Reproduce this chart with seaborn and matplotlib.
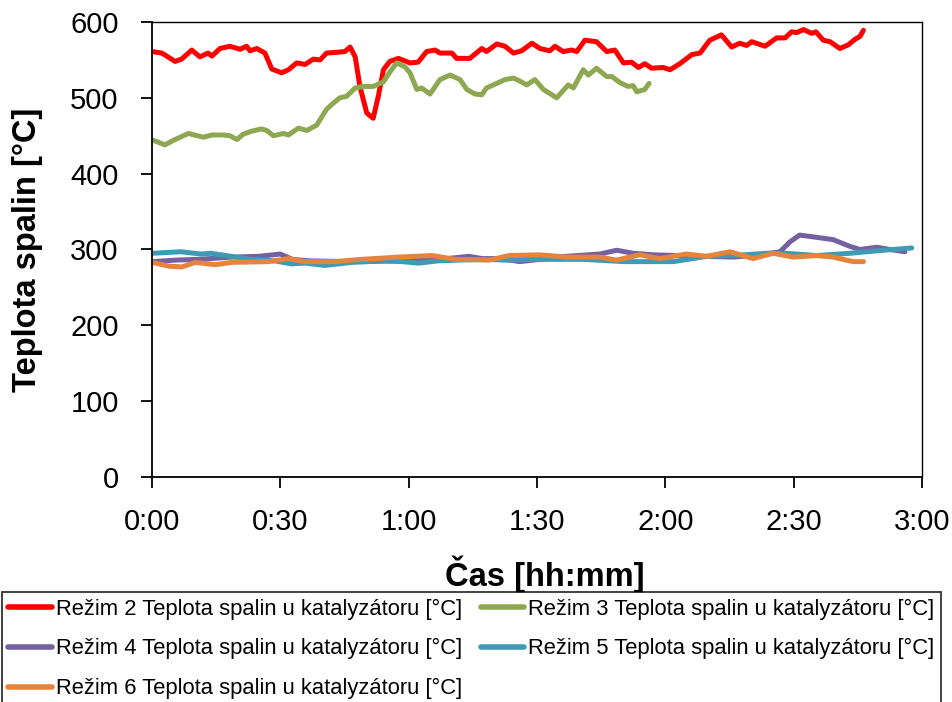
import matplotlib
matplotlib.use("Agg")
import matplotlib.pyplot as plt
import pandas as pd
import seaborn as sns

# data (time in minutes, temperature in °C)
t2 = [0, 2.3, 5.4, 6.9, 9.3, 11.2, 13.1, 14, 15.9, 18.2, 20.6, 22.1, 22.9, 24.5, 26.4, 28, 30.3, 31.9, 33.8, 35.8,
      37.7, 39.3, 40.8, 43.2, 45.1, 46.3, 47.5, 48.6, 50.2, 51.7, 52.9, 54.1, 55.6, 57.6, 60.3, 62.2, 64.2, 66.2, 67.3, 70.1,
      71.2, 74.3, 77.1, 78.2, 80.6, 82.5, 84.5, 86.4, 88.8, 90.7, 93, 94.2, 96.1, 98.1, 99.3, 101.2, 103.9, 106.3, 108.2, 110.2,
      112.1, 113.7, 115.2, 116.8, 119.5, 121.1, 123.4, 126.2, 128.1, 130.4, 133.1, 135.5, 137.4, 139, 140.2, 143.3, 146, 148, 149.5, 150.7,
      152.3, 154.2, 155.2, 156.9, 158.5, 160.8, 162.8, 164.3, 165.5, 166.3]
y2 = [561, 559, 548, 551, 563, 554, 559, 555, 565, 568, 564, 568, 562, 565, 559, 538, 533, 537, 546, 544,
      551, 550, 559, 560, 561, 567, 554, 515, 480, 473, 502, 537, 548, 552, 546, 547, 561, 563, 559, 559,
      552, 552, 565, 561, 571, 568, 559, 562, 572, 565, 562, 568, 561, 563, 561, 576, 574, 561, 563, 546,
      547, 540, 545, 539, 540, 537, 545, 557, 559, 576, 583, 567, 572, 569, 574, 568, 579, 579, 587, 586,
      590, 585, 587, 576, 574, 565, 570, 577, 581, 589]

t3 = [0.3, 3, 5.4, 8.5, 12, 14, 16.7, 18.2, 19.9, 21.3, 23.3, 25.6, 26.8, 28.4, 30.7, 31.9, 34.2, 36.2, 38.5, 40.8,
      42.4, 43.9, 45.5, 47.5, 49.4, 51.7, 54.1, 55.6, 57.2, 59.1, 60.3, 61.9, 63, 65, 67.3, 69.7, 72, 73.6, 75.5, 77.1,
      78.2, 80.6, 82.5, 84.5, 86, 87.6, 89.5, 91.5, 94.6, 97.3, 98.5, 100.8, 102, 103.9, 106.3, 107.5, 109.4, 111.3, 112.5, 113.3,
      115.2, 116.2]
y3 = [444, 438, 445, 453, 448, 451, 451, 450, 445, 452, 456, 459, 457, 450, 453, 451, 460, 457, 464, 485,
      493, 500, 502, 513, 515, 515, 521, 534, 546, 541, 533, 511, 513, 505, 524, 530, 524, 511, 505, 504,
      513, 519, 524, 526, 522, 517, 524, 511, 500, 517, 513, 537, 530, 539, 528, 528, 520, 515, 516, 508,
      511, 519]

t4 = [0, 5.5, 11, 18.8, 25, 30, 32.8, 36.7, 46, 57.7, 65.5, 74.1, 77.2, 81.3, 86, 96.9, 104.7, 108.6, 112.5, 117.2,
      128.1, 135.9, 142.1, 146.8, 149.1, 151.4, 155.4, 159.2, 163.2, 165.5, 169.4, 172.5, 176]
y4 = [284, 286, 287, 290, 291, 294, 287, 285, 284, 285, 286, 291, 288, 288, 284, 291, 294, 299, 295, 293,
      291, 290, 293, 297, 310, 319, 316, 313, 304, 300, 303, 300, 297]

t5 = [0, 6.8, 11.5, 13.8, 18.5, 23.2, 28.7, 32.6, 35.8, 40.4, 46.7, 54.5, 58.4, 62.3, 66.9, 71.6, 77.8, 82.5, 89.1, 100.8,
      110.2, 121.9, 129.7, 135.9, 143.7, 148.3, 155.4, 163.2, 171, 177.6]
y5 = [295, 297, 294, 295, 291, 287, 285, 281, 282, 279, 283, 285, 284, 282, 285, 286, 287, 286, 287, 287,
      284, 284, 291, 292, 295, 295, 292, 295, 299, 302]

t6 = [0, 4, 7, 10.1, 14.8, 18.7, 27.2, 31.9, 35.8, 42.8, 49, 57.7, 65.5, 70.9, 78.8, 83.5, 90.6, 96.9, 104.7, 108.6,
      114, 118.7, 124.9, 129.7, 135.1, 140.5, 145.2, 149.9, 155.4, 159.2, 163.9, 166.3]
y6 = [283, 278, 277, 283, 280, 283, 284, 288, 284, 284, 287, 290, 292, 287, 286, 292, 293, 290, 290, 286,
      293, 288, 294, 291, 297, 288, 295, 290, 292, 290, 284, 284]

labels = ["Režim 2 Teplota spalin u katalyzátoru [°C]", "Režim 3 Teplota spalin u katalyzátoru [°C]",
          "Režim 4 Teplota spalin u katalyzátoru [°C]", "Režim 5 Teplota spalin u katalyzátoru [°C]",
          "Režim 6 Teplota spalin u katalyzátoru [°C]"]
barvy = ["#FF0000", "#8DA850", "#7560A0", "#3F9BB5", "#E5843A"]
xticks = [0, 30, 60, 90, 120, 150, 180]
xticklabels = ["0:00", "0:30", "1:00", "1:30", "2:00", "2:30", "3:00"]
yticks = [0, 100, 200, 300, 400, 500, 600]

# long format table for seaborn
casy = [t2, t3, t4, t5, t6]
hodnoty = [y2, y3, y4, y5, y6]
df = pd.concat([pd.DataFrame({"cas": t, "teplota": y, "rezim": lab})
                for t, y, lab in zip(casy, hodnoty, labels)], ignore_index=True)

sns.set_style("ticks")
plt.rcParams["font.family"] = ["Liberation Sans", "DejaVu Sans"]
plt.rcParams["text.color"] = "black"

fig = plt.figure(figsize=(9.53, 7.02), dpi=100)
ax = fig.add_axes([0.1595, 0.3205, 0.808, 0.6482])

sns.lineplot(data=df, x="cas", y="teplota", hue="rezim", palette=barvy, hue_order=labels,
             sort=False, estimator=None, lw=3.6, ax=ax)
for ln in ax.get_lines():
    ln.set_solid_joinstyle("round")
    ln.set_solid_capstyle("round")

ax.set_xlim(0, 180)
ax.set_ylim(0, 600)
ax.set_xticks(xticks)
ax.set_xticklabels(xticklabels)
ax.set_yticks(yticks)
ax.tick_params(axis="both", labelsize=21, length=8, width=1.3, direction="out", colors="black", pad=14)
ax.tick_params(axis="y", pad=16)
for s in ax.spines.values():
    s.set_color("black")
    s.set_linewidth(1.3)
ax.spines["top"].set_linewidth(1.0)
ax.spines["right"].set_linewidth(1.0)

ax.set_xlabel("Čas [hh:mm]", fontsize=23.5, fontweight="bold", color="black")
ax.set_ylabel("Teplota spalin [°C]", fontsize=23.5, fontweight="bold", color="black")
ax.xaxis.set_label_coords(0.51, -0.172)
ax.yaxis.set_label_coords(-0.142, 0.5)

# legend in rows (2, 3 / 4, 5 / 6) like the reference
handles, labs = ax.get_legend_handles_labels()
ax.get_legend().remove()
poradi = [0, 2, 4, 1, 3]
leg = fig.legend([handles[i] for i in poradi], [labs[i] for i in poradi], loc="upper left",
                 bbox_to_anchor=(0.002, 1 - 592 / 702), ncol=2,
                 fontsize=15.8, frameon=True, fancybox=False, edgecolor="black", borderaxespad=0,
                 handlelength=2.0, handletextpad=0.15, columnspacing=0.85, labelspacing=0.85, borderpad=0.3)
leg.get_frame().set_linewidth(1.3)
for h in leg.get_lines():
    h.set_linewidth(4)

fig.savefig("out.png", dpi=100)
